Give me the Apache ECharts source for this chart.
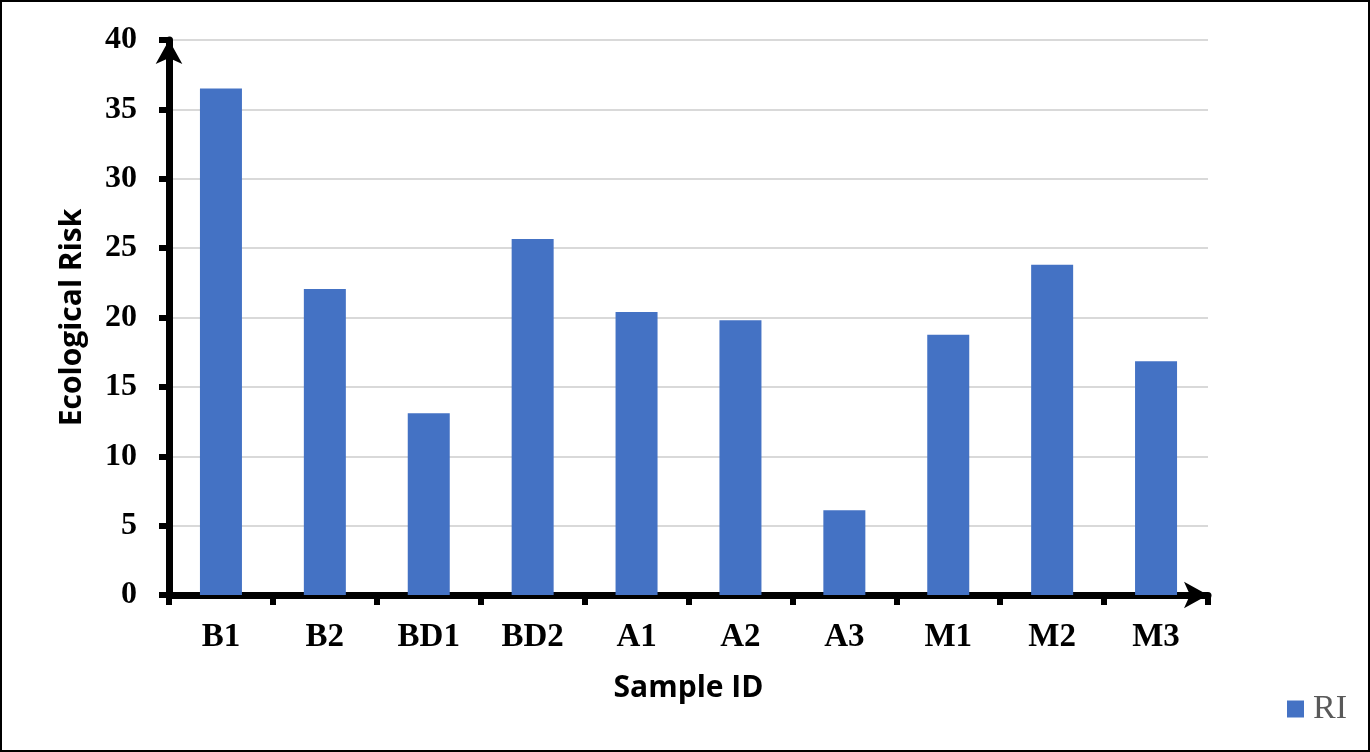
<!DOCTYPE html>
<html>
<head>
<meta charset="utf-8">
<script src="https://cdn.jsdelivr.net/npm/echarts@6/dist/echarts.min.js"></script>
<style>
  html, body { margin:0; padding:0; background:#fff; }
  #chart { width:1370px; height:752px; box-sizing:border-box; border:2px solid #000; }
</style>
</head>
<body>
<div id="chart"></div>
<script type="text/javascript">
// sample sites and their RI values
var samples = ['B1', 'B2', 'BD1', 'BD2', 'A1', 'A2', 'A3', 'M1', 'M2', 'M3'];
var riValues = [36.5, 22.05, 13.1, 25.65, 20.4, 19.8, 6.1, 18.75, 23.8, 16.85];
var yTicks = [0, 5, 10, 15, 20, 25, 30, 35, 40];

var myChart = echarts.init(document.getElementById('chart'));
var option = {
  animation: false,
  grid: {
    left: 167,
    right: 160,
    top: 38,
    bottom: 155
  },
  legend: {
    right: 16,
    bottom: 19,
    itemWidth: 17,
    itemHeight: 17,
    icon: 'rect',
    textStyle: {
      fontFamily: 'Liberation Serif',
      fontSize: 34,
      color: '#595959',
      padding: [0, 0, 0, 4]
    },
    data: ['RI']
  },
  xAxis: {
    type: 'category',
    data: samples,
    name: 'Sample ID',
    nameLocation: 'middle',
    nameGap: 78,
    nameTextStyle: {
      fontFamily: 'Open Sans',
      fontWeight: 'bold',
      fontSize: 30,
      color: '#000'
    },
    axisLine: {
      lineStyle: { color: '#000', width: 7 },
      symbol: ['none', 'arrow'],
      symbolSize: [20, 24]
    },
    axisTick: {
      show: true,
      alignWithLabel: false,
      length: 10,
      lineStyle: { color: '#000', width: 6 }
    },
    axisLabel: {
      margin: 26,
      fontFamily: 'Liberation Serif',
      fontWeight: 'bold',
      fontSize: 33,
      color: '#000'
    }
  },
  yAxis: {
    type: 'value',
    min: 0,
    max: 40,
    interval: 5,
    name: 'Ecological Risk',
    nameLocation: 'middle',
    nameGap: 82,
    nameTextStyle: {
      fontFamily: 'Open Sans',
      fontWeight: 'bold',
      fontSize: 30,
      color: '#000'
    },
    axisLine: {
      show: true,
      lineStyle: { color: '#000', width: 7 },
      symbol: ['none', 'arrow'],
      symbolSize: [20, 24]
    },
    axisTick: {
      show: true,
      length: 10,
      lineStyle: { color: '#000', width: 6 }
    },
    axisLabel: {
      margin: 32,
      fontFamily: 'Liberation Serif',
      fontWeight: 'bold',
      fontSize: 32,
      color: '#000',
      formatter: function (v) {
        return yTicks.indexOf(v) >= 0 ? String(v) : '';
      }
    },
    splitLine: {
      lineStyle: { color: '#d9d9d9', width: 2 }
    }
  },
  series: [{
    name: 'RI',
    type: 'bar',
    data: riValues,
    barWidth: 42,
    itemStyle: { color: '#4472c4' }
  }]
};
myChart.setOption(option);
</script>
</body>
</html>
